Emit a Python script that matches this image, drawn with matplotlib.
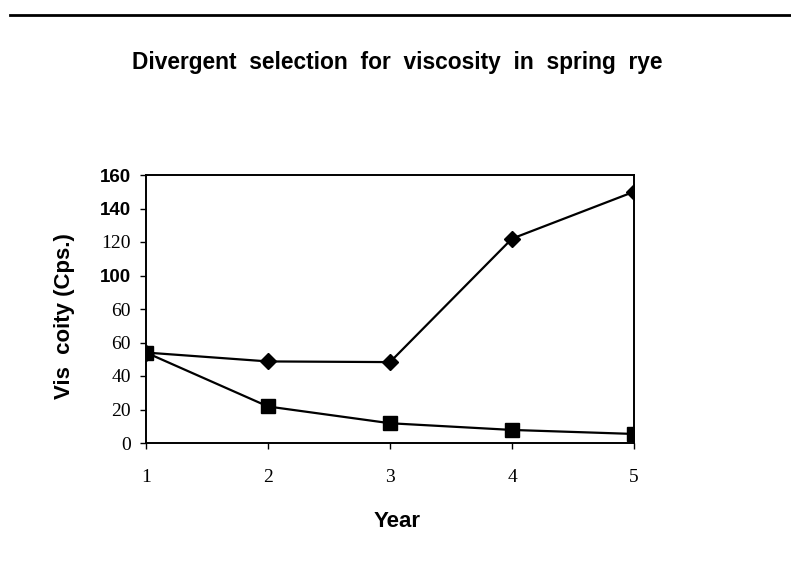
import matplotlib
matplotlib.use("Agg")
from matplotlib import pyplot as plt

years = [1, 2, 3, 4, 5]
high_visc = [54, 48.7, 48.3, 122, 150]   # diamonds, selected up
low_visc = [54, 21.8, 11.8, 7.8, 5.4]    # squares, selected down

ytick_vals = [0, 20, 40, 60, 80, 100, 120, 140, 160]
ytick_text = ["0", "20", "40", "60", "60", "100", "120", "140", "160"]
bold_ticks = {"100", "140", "160"}  # these came out in bold sans on the scan

SANS = "Liberation Sans"
SERIF = "Liberation Serif"

fig = plt.figure(figsize=(7.91, 5.74), dpi=100)
ax = fig.add_axes([146 / 791, 1 - 443 / 574, 488 / 791, 268 / 574])

ax.plot(years, high_visc, color="black", lw=1.6, marker="D", ms=8.5, zorder=3)
ax.plot(years, low_visc, color="black", lw=1.6, marker="s", ms=9.5, zorder=3)

ax.set_xlim(1, 5)
ax.set_ylim(0, 160)
ax.set_xticks(years)
ax.set_xticklabels([str(y) for y in years], family=SERIF, fontsize=14)
ax.set_yticks(ytick_vals)
ax.set_yticklabels(ytick_text)
for lab in ax.get_yticklabels():
    if lab.get_text() in bold_ticks:
        lab.set_fontproperties({"family": SANS, "weight": "bold", "size": 13.5})
    else:
        lab.set_fontproperties({"family": SERIF, "size": 14})

ax.tick_params(axis="y", direction="out", length=4, width=1, pad=7)
ax.tick_params(axis="x", direction="out", length=4, width=1, pad=15)
for sp in ax.spines.values():
    sp.set_linewidth(1.4)

ax.set_ylabel("Vis  coity (Cps.)", family=SANS, weight="bold", fontsize=16)
ax.yaxis.set_label_coords(-0.146, 0.474)
ax.set_xlabel("Year", family=SANS, weight="bold", fontsize=16)
ax.xaxis.set_label_coords(0.514, -0.255)

fig.text(397 / 791, 1 - 63 / 574, "Divergent  selection  for  viscosity  in  spring  rye",
         family=SANS, weight="bold", fontsize=16.4, ha="center", va="center")

# rule across the top of the page
fig.add_artist(plt.Line2D([10 / 791, 1], [1 - 15 / 574] * 2, color="black", lw=2))

fig.savefig("out.png", dpi=100)
